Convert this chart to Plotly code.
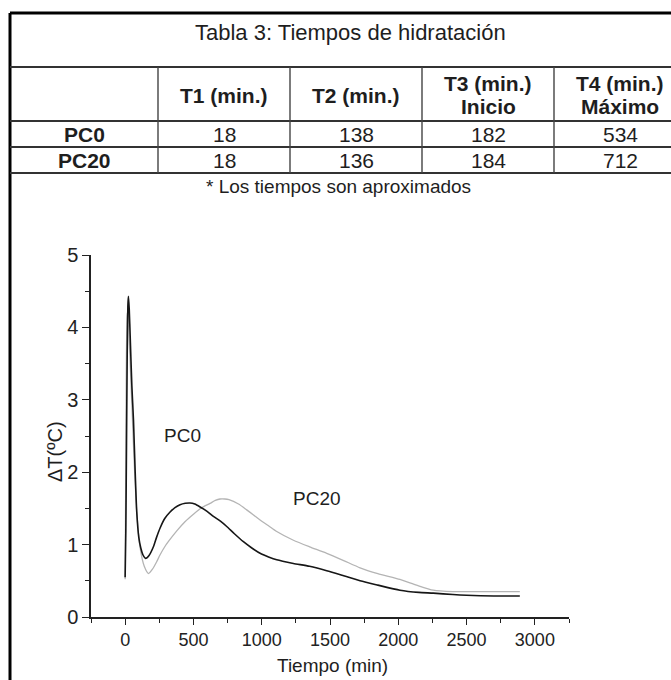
import plotly.graph_objects as go

# ---------------- data ----------------
t_pc0 = [0, 5, 10, 15, 20, 24, 30, 37, 49, 61, 73, 85, 100, 115, 130, 150, 175, 207,
         230, 256, 290, 329, 365, 402, 440, 475, 510, 549, 600, 646, 700, 744, 800, 866,
         930, 988, 1050, 1110, 1232, 1350, 1476, 1600, 1720, 1850, 2012, 2150, 2256,
         2400, 2500, 2700, 2890]
v_pc0 = [0.55, 1.2, 2.4, 3.6, 4.3, 4.43, 4.25, 3.87, 3.2, 2.72, 2.03, 1.45, 1.10, 0.95,
         0.86, 0.81, 0.85, 0.97, 1.10, 1.23, 1.36, 1.45, 1.51, 1.55, 1.57, 1.575, 1.56,
         1.52, 1.46, 1.39, 1.32, 1.25, 1.15, 1.04, 0.95, 0.88, 0.83, 0.79, 0.74, 0.70,
         0.64, 0.57, 0.50, 0.44, 0.37, 0.34, 0.33, 0.31, 0.30, 0.29, 0.29]

t_pc20 = [0, 4, 8, 12, 16, 20, 26, 35, 50, 65, 85, 110, 140, 171, 200, 230, 256, 290,
          320, 378, 440, 500, 560, 622, 660, 695, 730, 760, 830, 890, 940, 988, 1050,
          1110, 1232, 1350, 1476, 1600, 1720, 1850, 2012, 2134, 2256, 2400, 2500, 2700, 2890]
v_pc20 = [0.52, 1.8, 3.3, 4.0, 4.2, 4.2, 4.0, 3.6, 2.9, 2.2, 1.45, 0.95, 0.70, 0.60,
          0.66, 0.76, 0.86, 0.97, 1.05, 1.19, 1.32, 1.42, 1.51, 1.57, 1.61, 1.63, 1.63,
          1.62, 1.56, 1.48, 1.41, 1.34, 1.26, 1.18, 1.06, 0.97, 0.88, 0.78, 0.68, 0.60,
          0.52, 0.44, 0.37, 0.35, 0.35, 0.35, 0.35]

x_ticks = [0, 500, 1000, 1500, 2000, 2500, 3000]
y_ticks = [0, 1, 2, 3, 4, 5]

table_title = "Tabla 3: Tiempos de hidratación"
table_headers = [["T1 (min.)"], ["T2 (min.)"], ["T3 (min.)", "Inicio"], ["T4 (min.)", "Máximo"]]
table_rows = ["PC0", "PC20"]
table_values = [[18, 138, 182, 534], [18, 136, 184, 712]]
table_note = "* Los tiempos son aproximados"

# ---------------- layout geometry (pixels) ----------------
W, H = 671, 680
PL, PR, PT, PB = 91, 569, 255, 617
FONT = "Arial, Liberation Sans, sans-serif"


def px(x):
    return (x - PL) / (PR - PL)


def py(y):
    return (PB - y) / (PB - PT)


fig = go.Figure()
fig.add_trace(go.Scatter(x=t_pc20, y=v_pc20, mode="lines", name="PC20",
                         line=dict(color="#b4b4b4", width=1.3, shape="spline", smoothing=0.6),
                         showlegend=False))
fig.add_trace(go.Scatter(x=t_pc0, y=v_pc0, mode="lines", name="PC0",
                         line=dict(color="#161616", width=1.6, shape="spline", smoothing=0.6),
                         showlegend=False))

shapes = []
# outer border
shapes.append(dict(type="line", xref="paper", yref="paper", x0=px(10), x1=px(671),
                   y0=py(13), y1=py(13), line=dict(color="black", width=3)))
shapes.append(dict(type="line", xref="paper", yref="paper", x0=px(10), x1=px(10),
                   y0=py(13), y1=py(680), line=dict(color="black", width=3)))
# table lines
for yy in [67, 121, 147, 173]:
    shapes.append(dict(type="line", xref="paper", yref="paper", x0=px(10), x1=px(671),
                       y0=py(yy), y1=py(yy), line=dict(color="#333", width=2)))
col_lines = [158, 290, 422, 554]
for xx in col_lines:
    shapes.append(dict(type="line", xref="paper", yref="paper", x0=px(xx), x1=px(xx),
                       y0=py(67), y1=py(173), line=dict(color="#444", width=1.4)))

ann = []


def txt(x, y, s, size, bold=False, angle=0, color="#1e1e1e"):
    ann.append(dict(xref="paper", yref="paper", x=px(x), y=py(y),
                    text=("<b>%s</b>" % s) if bold else s, showarrow=False,
                    xanchor="center", yanchor="middle", textangle=angle,
                    font=dict(family=FONT, size=size, color=color)))


txt(350, 32, table_title, 22)
col_centers = [224, 356, 488, 620]
for cx, hdr in zip(col_centers, table_headers):
    if len(hdr) == 1:
        txt(cx, 95, hdr[0], 21, bold=True)
    else:
        txt(cx, 83, hdr[0], 21, bold=True)
        txt(cx, 107, hdr[1], 21, bold=True)
row_y = [134, 160]
for ry, name, vals in zip(row_y, table_rows, table_values):
    txt(84, ry, name, 21, bold=True)
    for cx, v in zip(col_centers, vals):
        txt(cx, ry, str(v), 21)
txt(338, 186, table_note, 19)

# axis titles and curve labels
txt(332, 665, "Tiempo (min)", 19)
txt(55, 452, "ΔT(ºC)", 20, angle=-90)
ann.append(dict(x=417, y=2.51, xref="x", yref="y", text="PC0", showarrow=False,
                font=dict(family=FONT, size=19, color="#1e1e1e")))
ann.append(dict(x=1405, y=1.64, xref="x", yref="y", text="PC20", showarrow=False,
                font=dict(family=FONT, size=19, color="#1e1e1e")))

fig.update_layout(
    width=W, height=H,
    margin=dict(l=PL, r=W - PR, t=PT, b=H - PB, pad=0),
    paper_bgcolor="white", plot_bgcolor="white",
    shapes=shapes, annotations=ann,
    font=dict(family=FONT, color="#1e1e1e"),
    xaxis=dict(range=[-250, 3250], tickvals=x_ticks, ticks="outside", ticklen=6,
               tickwidth=1.3, tickcolor="#222", showline=True, linecolor="#222",
               linewidth=1.5, showgrid=False, zeroline=False,
               tickfont=dict(family=FONT, size=18, color="#222"),
               minor=dict(dtick=250, tick0=0, ticks="outside", ticklen=4,
                          tickcolor="#222", tickwidth=1.1, showgrid=False)),
    yaxis=dict(range=[0, 5], tickvals=y_ticks, ticks="outside", ticklen=7,
               tickwidth=1.3, tickcolor="#222", showline=True, linecolor="#222",
               linewidth=1.5, showgrid=False, zeroline=False,
               tickfont=dict(family=FONT, size=20, color="#222"),
               minor=dict(dtick=0.5, tick0=0, ticks="outside", ticklen=4,
                          tickcolor="#222", tickwidth=1.1, showgrid=False)),
)

fig.write_html("out.html")
